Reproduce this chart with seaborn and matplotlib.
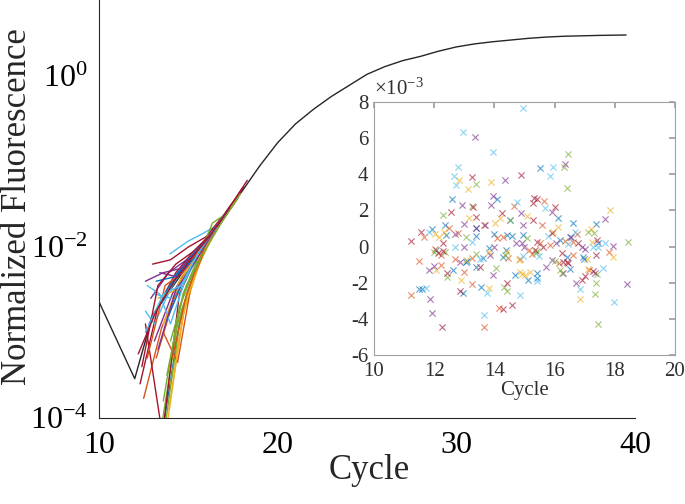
import numpy as np
import pandas as pd
import seaborn as sns
import matplotlib.pyplot as plt
from matplotlib.ticker import LogLocator, NullFormatter, FixedLocator

sns.set_theme(style='white')
plt.rcParams['font.family'] = ['Liberation Serif', 'DejaVu Serif']
plt.rcParams['mathtext.fontset'] = 'custom'
plt.rcParams['mathtext.rm'] = 'Liberation Serif'
plt.rcParams['mathtext.it'] = 'Liberation Serif:italic'
plt.rcParams['axes.unicode_minus'] = False

# MATLAB default line colours
matlab = ['#0072BD', '#D95319', '#EDB120', '#7E2F8E', '#77AC30', '#4DBEEE', '#A2142F']

# reference amplification curve (log10 of normalized fluorescence)
ref_cycles = [10, 11, 12, 13, 14, 15, 16, 17, 18, 19, 20, 21, 22, 23, 24, 25,
              26, 27, 28, 29, 30, 31, 32, 33, 34, 35, 36, 37, 38, 39, 39.5]
ref_log = [-2.64, -3.09, -3.54, -2.80, -2.50, -2.20, -1.90, -1.63, -1.35, -1.05,
           -0.78, -0.56, -0.39, -0.24, -0.11, 0.02, 0.11, 0.18, 0.23, 0.29, 0.34,
           0.375, 0.40, 0.42, 0.44, 0.455, 0.465, 0.47, 0.475, 0.478, 0.48]

# individual wells, early cycles (x, log10 y)
wells_x = [
    [13.6, 14.5, 15.5, 16.5, 17.5],
    [12.5, 13.5, 14.5, 15.5, 16.5, 17.6],
    [13.8, 14.7, 15.6, 16.6, 17.7],
    [12.9, 13.9, 14.9, 15.9, 16.9, 18.0],
    [13.5, 14.4, 15.4, 16.4, 17.4],
    [13.97, 15.0, 15.65, 16.6, 17.4],
    [12.3, 13.3, 14.3, 15.3, 16.3, 17.3],
    [12.8, 13.8, 14.8, 15.8, 16.8, 17.8],
    [13.2, 14.2, 15.2, 16.2, 17.2],
    [14.0, 14.9, 15.9, 16.9, 17.9],
    [13.1, 14.1, 15.1, 16.1, 17.1],
    [13.7, 14.6, 15.6, 16.6, 17.6],
    [12.6, 13.1, 14.1, 15.1, 16.1, 17.1],
    [12.6, 13.55, 14.5, 15.5, 16.5, 17.5],
    [13.2, 14.2, 15.2, 16.2, 17.2],
    [12.7, 13.7, 14.7, 15.7, 16.7, 17.7],
    [13.3, 14.3, 15.3, 16.3, 17.3],
    [12.6, 13.6, 14.6, 15.6, 16.6, 17.6],
    [13.6, 14.5, 15.5, 16.5, 17.5],
    [12.7, 13.4, 14.0, 14.8, 15.8, 16.8],
    [13.0, 14.0, 15.0, 16.0, 17.0, 18.1],
    [13.9, 14.8, 15.8, 16.8, 17.8],
    [13.6, 14.4, 15.2, 16.2, 17.2],
    [13.9, 14.8, 15.7, 16.7, 17.7],
    [13.4, 14.4, 15.4, 16.4, 17.4],
    [13.8, 14.7, 15.7, 16.35, 17.2],
    [13.1, 14.1, 15.1, 16.1, 17.1],
    [12.4, 13.3, 14.3, 15.3, 16.3, 17.3],
    [13.5, 14.5, 15.5, 16.5, 17.5],
    [14.1, 14.9, 15.9, 16.9, 17.9],
    [13.6, 14.6, 15.6, 16.6, 17.6],
    [13.3, 14.3, 15.3, 16.3, 17.3],
    [14.0, 14.9, 15.9, 16.9, 17.9],
    [12.6, 13.6, 14.6, 15.6, 16.6],
    [12.2, 13.2, 14.2, 15.2, 16.2, 17.2, 18.3],
]
wells_log = [
    [-4.1, -2.9, -2.2, -1.8, -1.5],
    [-3.77, -2.95, -2.45, -2.12, -1.8, -1.48],
    [-4.1, -2.8, -2.2, -1.78, -1.45],
    [-2.6, -2.3, -2.15, -1.95, -1.68, -1.32],
    [-4.1, -2.9, -2.25, -1.85, -1.52],
    [-2.08, -1.93, -1.86, -1.75, -1.5],
    [-3.6, -2.7, -2.3, -2.05, -1.85, -1.55],
    [-2.9, -2.5, -2.2, -1.98, -1.7, -1.4],
    [-3.3, -2.6, -2.2, -1.88, -1.57],
    [-3.6, -2.6, -2.05, -1.68, -1.38],
    [-3.1, -2.55, -2.2, -1.9, -1.6],
    [-4.1, -2.75, -2.15, -1.78, -1.47],
    [-2.75, -2.9, -2.45, -2.12, -1.88, -1.6],
    [-2.9, -4.2, -2.55, -2.1, -1.8, -1.5],
    [-2.4, -2.35, -2.1, -1.87, -1.57],
    [-3.3, -2.45, -2.3, -2.0, -1.75, -1.45],
    [-2.6, -2.5, -2.15, -1.85, -1.55],
    [-2.4, -2.3, -2.25, -2.02, -1.77, -1.47],
    [-3.8, -2.7, -2.18, -1.83, -1.5],
    [-2.45, -2.55, -2.9, -2.4, -2.0, -1.72],
    [-2.2, -2.15, -2.0, -1.88, -1.62, -1.3],
    [-2.8, -2.35, -2.0, -1.72, -1.42],
    [-3.0, -3.35, -2.4, -1.9, -1.58],
    [-3.9, -2.7, -2.1, -1.75, -1.45],
    [-2.3, -2.35, -2.12, -1.84, -1.53],
    [-3.5, -2.55, -2.05, -1.72, -1.6],
    [-2.55, -2.6, -2.25, -1.9, -1.6],
    [-3.4, -2.45, -2.2, -2.05, -1.84, -1.55],
    [-2.65, -2.3, -2.1, -1.82, -1.5],
    [-3.3, -2.55, -2.0, -1.68, -1.38],
    [-2.9, -2.35, -2.08, -1.78, -1.47],
    [-3.2, -2.5, -2.2, -1.86, -1.55],
    [-3.1, -2.45, -2.05, -1.7, -1.38],
    [-3.0, -2.55, -2.45, -2.05, -1.77],
    [-3.25, -2.75, -2.4, -2.12, -1.88, -1.57, -1.22],
]

# inset: residuals (units of 1e-3) per colour
inset_blue_x = [15.51, 12.60, 14.09, 14.52, 16.12, 16.62, 17.39, 12.35, 11.94, 12.39, 13.40, 13.40, 13.98, 14.41,
                14.60, 14.96, 16.17, 16.51, 17.45, 12.07, 13.09, 13.62, 13.83, 14.30, 14.39, 16.40, 16.95, 16.97,
                12.61, 13.07, 13.38, 14.68, 15.12, 15.40, 15.40, 16.51, 11.49, 11.58, 12.96, 13.57]
inset_blue_y = [4.34, 2.64, 2.62, 1.48, 1.57, 1.33, 1.26, 1.18, 0.96, 0.65, 1.02, 0.61, 0.70, 0.65,
                0.61, 0.65, 0.37, 0.52, 0.19, -0.18, -0.77, -0.64, -0.09, -0.55, -0.18, -0.55, -0.55, -0.70,
                -1.29, -0.87, -1.11, -1.57, -1.85, -1.44, -1.75, -1.22, -2.34, -2.34, -2.55, -2.22]
inset_orange_x = [14.64, 15.65, 13.67, 15.57, 11.65, 12.50, 12.79, 14.07, 14.27, 15.51, 15.84, 16.34, 16.75, 16.62,
                  11.49, 12.02, 12.21, 12.68, 13.27, 14.46, 14.85, 15.16, 15.24, 16.14, 16.62, 17.82, 12.21, 13.00,
                  13.27, 17.15, 11.24, 13.66, 14.16]
inset_orange_y = [2.22, 2.53, 1.18, 1.20, 0.55, 1.04, 0.74, 0.50, 0.55, 0.22, 0.09, 0.33, 0.67, 0.26,
                  -0.77, -0.13, -0.48, -0.66, -0.63, -0.64, -0.68, -0.18, -0.42, -0.92, -0.46, -0.28, -1.01, -1.38,
                  -2.09, -1.29, -2.68, -4.47, -3.42]
inset_yellow_x = [12.82, 13.12, 13.90, 13.16, 14.18, 15.07, 17.84, 14.01, 12.02, 12.16, 12.33, 15.95, 16.12, 17.20,
                  17.25, 13.07, 13.83, 14.41, 14.82, 17.06, 17.93, 12.07, 12.90, 14.85, 14.93, 15.01, 15.18, 17.12,
                  13.83, 16.84]
inset_yellow_y = [3.70, 3.18, 3.60, 1.57, 1.57, 1.70, 2.03, 1.29, 0.70, 0.55, 0.78, 0.83, 1.11, 0.96,
                  0.28, -0.74, -0.28, -0.31, -0.74, -0.66, -0.55, -1.29, -1.85, -1.38, -1.51, -1.57, -1.38, -1.25,
                  -2.31, -2.92]
inset_purple_x = [13.35, 16.36, 14.35, 13.94, 13.90, 15.90, 12.93, 14.90, 17.69, 13.38, 12.99, 13.68, 14.96, 12.68,
                  12.98, 13.98, 14.73, 14.93, 14.99, 16.06, 16.56, 17.95, 16.90, 12.87, 13.85, 15.92, 17.00, 11.83,
                  12.00, 13.96, 15.73, 16.28, 16.71, 17.34, 11.85, 11.93, 18.39]
inset_purple_y = [6.06, 4.58, 3.66, 2.81, 2.31, 1.94, 2.31, 1.85, 1.52, 1.02, 1.26, 1.20, 1.20, 0.67,
                  0.0, 0.0, 0.19, 0.19, 0.0, 0.19, 0.55, 0.04, 0.0, -0.88, -0.46, -0.74, -0.15, -1.29,
                  -1.07, -1.57, -1.11, -1.48, -2.03, -1.44, -2.92, -3.69, -2.09]
inset_green_x = [16.45, 16.32, 13.40, 16.40, 12.29, 13.27, 14.51, 13.05, 15.07, 17.12, 17.32, 18.45, 12.00, 12.37,
                 13.40, 14.34, 15.38, 15.42, 16.01, 12.41, 14.05, 16.17, 16.26, 17.42, 17.39, 14.32, 14.43, 17.35,
                 17.45]
inset_green_y = [5.12, 4.40, 3.46, 3.23, 1.76, 2.22, 1.48, 0.55, 0.46, 0.83, 0.74, 0.28, -0.31, -0.29,
                 -0.42, -0.46, -0.33, -0.27, -0.77, -1.66, -1.18, -1.29, -1.48, -1.51, -2.03, -2.22, -2.44, -2.62,
                 -4.28]
inset_lblue_x = [14.96, 12.96, 13.96, 12.80, 15.95, 15.84, 12.66, 12.74, 14.75, 15.67, 11.82, 13.24, 15.79, 16.67,
                 17.45, 17.67, 16.45, 12.68, 17.28, 13.52, 14.96, 15.49, 15.42, 17.62, 11.74, 13.74, 13.66, 14.85,
                 16.84, 17.97]
inset_lblue_y = [7.67, 6.32, 5.21, 4.43, 4.43, 3.92, 3.88, 3.42, 2.44, 2.13, 0.81, 0.28, 0.59, 0.78,
                 0.0, 0.19, 0.15, 0.0, 0.0, -0.66, -0.50, -0.52, -1.88, -1.16, -2.31, -2.55, -3.79, -2.68,
                 -2.36, -3.08]
inset_red_x = [14.90, 13.27, 15.31, 15.42, 15.29, 16.01, 12.55, 13.29, 13.40, 14.26, 15.27, 11.55, 11.24, 12.30,
               15.40, 15.93, 16.78, 17.42, 12.30, 12.13, 15.35, 15.62, 16.23, 16.40, 16.43, 17.39, 12.41, 13.51,
               16.28, 16.90, 17.00, 17.28, 12.26, 12.85, 14.41, 14.30, 14.57]
inset_red_y = [3.96, 3.83, 2.68, 2.62, 2.40, 2.18, 1.89, 2.18, 1.66, 1.85, 1.48, 0.83, 0.33, 0.19,
               0.28, 0.74, 0.19, 0.37, -0.27, -0.33, -0.18, 0.0, -0.33, -0.83, -0.92, -0.46, -1.44, -1.11,
               -0.88, -1.85, -1.62, -1.33, -4.43, -2.44, -2.03, -3.48, -3.23]

# ---- main axes ----
fig = plt.figure(figsize=(6.85, 5.04), dpi=100)
ax = fig.add_axes([0.1445, 0.1706, 0.7825, 0.8294])
ax.set_yscale('log')

ref = pd.DataFrame({'Cycle': ref_cycles, 'F': 10 ** np.array(ref_log)})
sns.lineplot(data=ref, x='Cycle', y='F', color='#262626', lw=1.0, ax=ax)

rows = []
for i, (xs, ys) in enumerate(zip(wells_x, wells_log)):
    for x, y in zip(xs, ys):
        rows.append({'Cycle': x, 'F': 10 ** y, 'well': i})
wells = pd.DataFrame(rows)
well_pal = [matlab[i % 7] for i in range(len(wells_x))]
sns.lineplot(data=wells, x='Cycle', y='F', hue='well', units='well', estimator=None,
             palette=well_pal, lw=1.0, sort=False, legend=False, ax=ax)

ax.set_xlim(10, 40)
ax.set_ylim(1e-4, 10 ** 0.889)
ax.set_xticks([10, 20, 30, 40])
ax.yaxis.set_major_locator(FixedLocator([1e-4, 1e-2, 1e0]))
ax.yaxis.set_minor_locator(LogLocator(base=10, subs=np.arange(1, 10), numticks=50))
ax.yaxis.set_minor_formatter(NullFormatter())
for s in ['top', 'right']:
    ax.spines[s].set_visible(False)
for s in ['left', 'bottom']:
    ax.spines[s].set_color('#262626')
    ax.spines[s].set_linewidth(0.8)
ax.tick_params(which='both', direction='in', colors='#262626', labelcolor='black')
ax.tick_params(which='major', length=6, labelsize=23)
ax.tick_params(which='minor', length=3)
ax.tick_params(axis='x', pad=9)
ax.tick_params(axis='y', pad=8)
ax.set_xlabel('Cycle', fontsize=25)
ax.set_ylabel('Normalized Fluorescence', fontsize=25)
ax.xaxis.set_label_coords(0.504, -0.085)
ax.yaxis.set_label_coords(-0.122, 0.505)

# ---- inset ----
ins = fig.add_axes([0.546, 0.2956, 0.4394, 0.502])
groups = [(inset_blue_x, inset_blue_y, matlab[0]), (inset_orange_x, inset_orange_y, matlab[1]),
          (inset_yellow_x, inset_yellow_y, matlab[2]), (inset_purple_x, inset_purple_y, matlab[3]),
          (inset_green_x, inset_green_y, matlab[4]), (inset_lblue_x, inset_lblue_y, matlab[5]),
          (inset_red_x, inset_red_y, matlab[6])]
for xs, ys, c in groups:
    sns.scatterplot(x=xs, y=ys, marker='x', color=c, s=20, linewidth=0.8, alpha=0.65, ax=ins)

ins.set_xlim(10, 20)
ins.set_ylim(-6, 8)
ins.set_xticks(np.arange(10, 21, 2))
ins.set_yticks(np.arange(-6, 9, 2))
for s in ins.spines.values():
    s.set_color('#a0a0a0')
    s.set_linewidth(0.8)
ins.tick_params(which='both', direction='in', length=4, colors='#a0a0a0', labelcolor='#303030',
                labelsize=15, top=True, right=True)
ins.tick_params(axis='x', pad=5)
ins.tick_params(axis='y', pad=4)
ins.set_xlabel('Cycle', fontsize=15, color='#303030', labelpad=0)
ins.text(0.0, 1.01, r'$\times10^{-3}$', transform=ins.transAxes, fontsize=15,
         color='#303030', ha='left', va='bottom')

fig.savefig('out.png', dpi=100)
